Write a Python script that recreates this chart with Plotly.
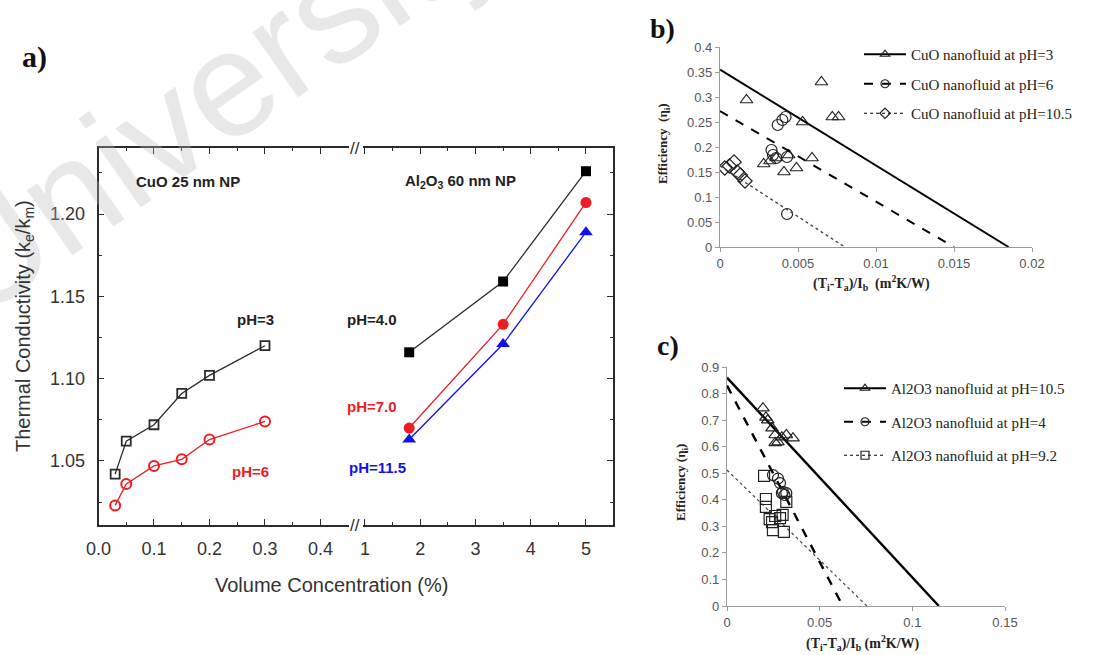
import plotly.graph_objects as go

W, H = 1094, 655

# ---------------- Panel a data ----------------
cuo_x = [0.03, 0.05, 0.1, 0.15, 0.2, 0.3]
cuo_ph3 = [1.042, 1.062, 1.072, 1.091, 1.102, 1.120]
cuo_ph6 = [1.023, 1.036, 1.047, 1.051, 1.063, 1.074]
al_x = [1.8, 3.5, 5.0]
al_ph4 = [1.116, 1.159, 1.226]
al_ph7 = [1.070, 1.133, 1.207]
al_ph115 = [1.063, 1.121, 1.189]

# ---------------- Panel b data ----------------
b_ph3_x = [0.0017, 0.0065, 0.0053, 0.0072, 0.0076, 0.0028, 0.0032, 0.0036, 0.0041, 0.0044, 0.0049, 0.0059]
b_ph3_y = [0.294, 0.330, 0.250, 0.260, 0.260, 0.166, 0.172, 0.178, 0.150, 0.184, 0.158, 0.178]
b_ph6_x = [0.0037, 0.0040, 0.0042, 0.0033, 0.0034, 0.0036, 0.0043, 0.0043]
b_ph6_y = [0.244, 0.254, 0.260, 0.194, 0.184, 0.178, 0.180, 0.066]
b_ph105_x = [0.0003, 0.0006, 0.0009, 0.0011, 0.0013, 0.0016]
b_ph105_y = [0.158, 0.162, 0.170, 0.150, 0.144, 0.132]
b_fit3_x, b_fit3_y = [0, 0.0185], [0.355, 0]
b_fit6_x, b_fit6_y = [0, 0.0150], [0.272, 0]
b_fit105_x, b_fit105_y = [0, 0.0080], [0.162, 0]
b_names = ["CuO nanofluid at pH=3", "CuO nanofluid at pH=6", "CuO nanofluid at pH=10.5"]

# ---------------- Panel c data ----------------
c_ph105_x = [0.0194, 0.0210, 0.0220, 0.0243, 0.0260, 0.0275, 0.0296, 0.0320, 0.0356, 0.0260]
c_ph105_y = [0.745, 0.710, 0.700, 0.670, 0.644, 0.617, 0.636, 0.644, 0.632, 0.614]
c_ph4_x = [0.0248, 0.0275, 0.0286, 0.0296, 0.0302, 0.0310, 0.0320]
c_ph4_y = [0.493, 0.480, 0.463, 0.425, 0.430, 0.418, 0.425]
c_ph92_x = [0.0200, 0.0210, 0.0210, 0.0230, 0.0243, 0.0260, 0.0248, 0.0286, 0.0300, 0.0307, 0.0320]
c_ph92_y = [0.490, 0.403, 0.373, 0.327, 0.316, 0.339, 0.286, 0.331, 0.343, 0.279, 0.392]
c_fit105_x, c_fit105_y = [0, 0.1143], [0.860, 0]
c_fit4_x, c_fit4_y = [0, 0.0625], [0.830, 0]
c_fit92_x, c_fit92_y = [0, 0.0755], [0.512, 0]
c_names = ["Al2O3 nanofluid at pH=10.5", "Al2O3 nanofluid at pH=4", "Al2O3 nanofluid at pH=9.2"]

b_xticks = [0, 0.005, 0.01, 0.015, 0.02]
b_xlabels = ["0", "0.005", "0.01", "0.015", "0.02"]
b_yticks = [0, 0.05, 0.1, 0.15, 0.2, 0.25, 0.3, 0.35, 0.4]
b_ylabels = ["0", "0.05", "0.1", "0.15", "0.2", "0.25", "0.3", "0.35", "0.4"]
c_xticks = [0, 0.05, 0.1, 0.15]
c_xlabels = ["0", "0.05", "0.1", "0.15"]
c_yticks = [0, 0.1, 0.2, 0.3, 0.4, 0.5, 0.6, 0.7, 0.8, 0.9]
c_ylabels = ["0", "0.1", "0.2", "0.3", "0.4", "0.5", "0.6", "0.7", "0.8", "0.9"]


def px(x):
    return x / W


def py(y):
    return 1 - y / H


DARK = "#2b2b2b"
RED = "#ee1c25"
BLUE = "#1010f0"
SANS = "Liberation Sans"
SERIF = "Liberation Serif"

fig = go.Figure()

# ---------- panel a traces ----------
fig.add_trace(go.Scatter(x=cuo_x, y=cuo_ph3, mode="lines+markers", xaxis="x", yaxis="y",
                         line=dict(color=DARK, width=1.3),
                         marker=dict(symbol="square-open", size=9, color=DARK, line=dict(width=1.8)),
                         showlegend=False))
fig.add_trace(go.Scatter(x=cuo_x, y=cuo_ph6, mode="lines+markers", xaxis="x", yaxis="y",
                         line=dict(color=RED, width=1.3),
                         marker=dict(symbol="circle-open", size=10, color=RED, line=dict(width=2)),
                         showlegend=False))
fig.add_trace(go.Scatter(x=al_x, y=al_ph4, mode="lines+markers", xaxis="x2", yaxis="y2",
                         line=dict(color=DARK, width=1.3),
                         marker=dict(symbol="square", size=10, color="black"),
                         showlegend=False))
fig.add_trace(go.Scatter(x=al_x, y=al_ph7, mode="lines+markers", xaxis="x2", yaxis="y2",
                         line=dict(color=RED, width=1.3),
                         marker=dict(symbol="circle", size=11, color=RED),
                         showlegend=False))
fig.add_trace(go.Scatter(x=al_x, y=al_ph115, mode="lines+markers", xaxis="x2", yaxis="y2",
                         line=dict(color=BLUE, width=1.3),
                         marker=dict(symbol="triangle-up", size=12, color=BLUE),
                         showlegend=False))

# ---------- panel b / c traces ----------
def add_panel(xa, ya, leg, sets):
    for i, (mx, my, fx, fy, sym, dash, lw, name) in enumerate(sets):
        fig.add_trace(go.Scatter(x=fx, y=fy, mode="lines", xaxis=xa, yaxis=ya,
                                 line=dict(color="black" if dash != "dot" else "#444", width=lw, dash=dash),
                                 showlegend=False))
        fig.add_trace(go.Scatter(x=mx, y=my, mode="markers", xaxis=xa, yaxis=ya,
                                 marker=dict(symbol=sym, size=11, color="#222", line=dict(width=1.2)),
                                 showlegend=False))
        fig.add_trace(go.Scatter(x=[None], y=[None], mode="lines+markers", xaxis=xa, yaxis=ya,
                                 line=dict(color="black", width=1.8 if dash != "dot" else 1.2, dash=dash),
                                 marker=dict(symbol=sym, size=8, color="#222", line=dict(width=1.2)),
                                 name=name, legend=leg, legendgroup=f"{leg}{i}"))


add_panel("x3", "y3", "legend", [
    (b_ph3_x, b_ph3_y, b_fit3_x, b_fit3_y, "triangle-up-open", "solid", 2.0, b_names[0]),
    (b_ph6_x, b_ph6_y, b_fit6_x, b_fit6_y, "circle-open", "dash", 2.0, b_names[1]),
    (b_ph105_x, b_ph105_y, b_fit105_x, b_fit105_y, "diamond-open", "dot", 1.4, b_names[2]),
])
add_panel("x4", "y4", "legend2", [
    (c_ph105_x, c_ph105_y, c_fit105_x, c_fit105_y, "triangle-up-open", "solid", 2.4, c_names[0]),
    (c_ph4_x, c_ph4_y, c_fit4_x, c_fit4_y, "circle-open", "dash", 2.4, c_names[1]),
    (c_ph92_x, c_ph92_y, c_fit92_x, c_fit92_y, "square-open", "dot", 1.2, c_names[2]),
])

# ---------- axes ----------
a_tick = dict(ticks="inside", ticklen=6, tickwidth=1.3, tickcolor=DARK, showline=True,
              linecolor=DARK, linewidth=1.5, showgrid=False, zeroline=False,
              tickfont=dict(family=SANS, size=18, color="#333"))
ya_dom = [py(525), py(148)]
y_range = [1.0111, 1.2401]

fig.update_layout(
    xaxis=dict(domain=[px(98.5), px(349)], range=[0, 0.4514], anchor="y", mirror="ticks",
               tickmode="linear", tick0=0, dtick=0.1, tickformat=".1f", ticklabelstandoff=7,
               minor=dict(ticks="inside", ticklen=3.5, dtick=0.05, tickcolor=DARK), **a_tick),
    xaxis2=dict(domain=[px(363), px(613)], range=[0.964, 5.489], anchor="y2", mirror="ticks",
                tickmode="linear", tick0=0, dtick=1, ticklabelstandoff=7,
                minor=dict(ticks="inside", ticklen=3.5, dtick=0.5, tickcolor=DARK), **a_tick),
    yaxis=dict(domain=ya_dom, range=y_range, anchor="x", tickmode="linear", tick0=0, dtick=0.05,
               tickformat=".2f", ticklabelstandoff=8,
               minor=dict(ticks="inside", ticklen=3.5, dtick=0.025, tickcolor=DARK), **a_tick),
    yaxis2=dict(domain=ya_dom, range=y_range, anchor="x2", overlaying="y", side="right",
                tickmode="linear", tick0=0, dtick=0.05, showticklabels=False,
                minor=dict(ticks="inside", ticklen=3.5, dtick=0.025, tickcolor=DARK), **a_tick),
)

bc_common = dict(showline=True, linecolor="#9a9a9a", linewidth=1.2, ticks="outside", ticklen=4,
                 tickcolor="#9a9a9a", showgrid=False, zeroline=False,
                 tickfont=dict(family=SANS, size=13, color="#555"))
fig.update_layout(
    xaxis3=dict(domain=[px(720), px(1032)], range=[0, 0.02], anchor="y3",
                tickvals=b_xticks, ticktext=b_xlabels, **bc_common),
    yaxis3=dict(domain=[py(247), py(47)], range=[0, 0.4], anchor="x3",
                tickvals=b_yticks, ticktext=b_ylabels, **bc_common),
    xaxis4=dict(domain=[px(727), px(1005)], range=[0, 0.15], anchor="y4",
                tickvals=c_xticks, ticktext=c_xlabels, **bc_common),
    yaxis4=dict(domain=[py(606), py(367)], range=[0, 0.9], anchor="x4",
                tickvals=c_yticks, ticktext=c_ylabels, **bc_common),
)

leg_common = dict(xanchor="left", yanchor="top", bgcolor="rgba(0,0,0,0)", itemwidth=42,
                  font=dict(family=SERIF, size=15, color="#222"),
                  itemclick=False, itemdoubleclick=False)
fig.update_layout(
    legend=dict(x=px(859), y=py(38), tracegroupgap=7, **leg_common),
    legend2=dict(x=px(839), y=py(372), tracegroupgap=11, **leg_common),
)

# ---------- annotations ----------
ann = []


def note(text, x, y, size, color="#222", family=SANS, angle=0, bold=False, xanchor="center"):
    t = f"<b>{text}</b>" if bold else text
    ann.append(dict(text=t, x=px(x), y=py(y), xref="paper", yref="paper", showarrow=False,
                    xanchor=xanchor, yanchor="middle", textangle=angle,
                    font=dict(family=family, size=size, color=color)))


# faint watermark
ann.append(dict(text="University", x=px(215), y=py(92), xref="paper", yref="paper",
                showarrow=False, textangle=-35, xanchor="center", yanchor="middle",
                font=dict(family=SANS, size=150, color="rgba(185,185,185,0.33)")))

note("a)", 34, 57, 30, color="#111", family=SERIF, bold=True)
note("b)", 662, 28, 28, color="#111", family=SERIF, bold=True)
note("c)", 668, 346, 28, color="#111", family=SERIF, bold=True)

note("CuO 25 nm NP", 188, 182, 15, bold=True)
note("Al<sub>2</sub>O<sub>3</sub> 60 nm NP", 460, 182, 15, bold=True)
note("pH=3", 255, 319, 15, bold=True)
note("pH=4.0", 372, 320, 15, bold=True)
note("pH=6", 250, 471, 15, color=RED, bold=True)
note("pH=7.0", 372, 407, 15, color=RED, bold=True)
note("pH=11.5", 377, 467, 15, color=BLUE, bold=True)

note("//", 355, 148, 17, color=DARK)
note("//", 355, 525, 17, color=DARK)

note("Volume Concentration (%)", 331, 585, 20, color="#333")
note("Thermal Conductivity (k<sub>e</sub>/k<sub>m</sub>)", 24, 326, 20, color="#333", angle=-90)

note("Efficiency  (η<sub>i</sub>)", 664, 144, 13, family=SERIF, bold=True, angle=-90)
note("(T<sub>i</sub>-T<sub>a</sub>)/I<sub>b</sub>  (m<sup>2</sup>K/W)", 871, 283, 14, family=SERIF, bold=True)
note("Efficiency (η<sub>i</sub>)", 681, 483, 13, family=SERIF, bold=True, angle=-90)
note("(T<sub>i</sub>-T<sub>a</sub>)/I<sub>b</sub> (m<sup>2</sup>K/W)", 863, 643, 14, family=SERIF, bold=True)

fig.update_layout(
    width=W, height=H, margin=dict(l=0, r=0, t=0, b=0, autoexpand=False),
    paper_bgcolor="white", plot_bgcolor="rgba(0,0,0,0)",
    annotations=ann,
)

fig.write_html("out.html")
